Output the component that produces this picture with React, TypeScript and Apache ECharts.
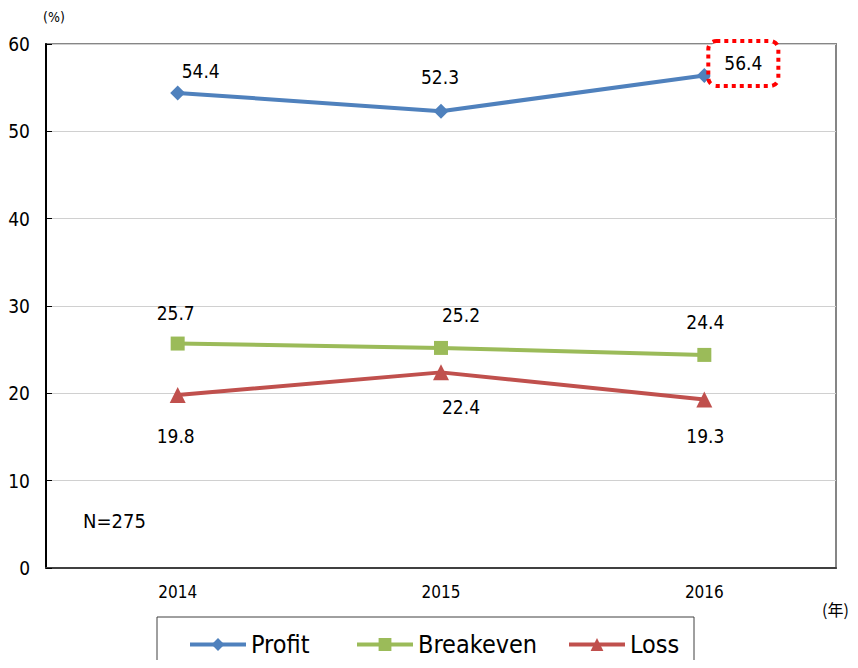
import React, { useEffect, useRef } from "react";
import * as echarts from "echarts";

const years = ["2014", "2015", "2016"];
const profit = [54.4, 52.3, 56.4];
const breakeven = [25.7, 25.2, 24.4];
const loss = [19.8, 22.4, 19.3];
const seriesNames = ["Profit", "Breakeven", "Loss"];
const colors = ["#4F81BD", "#9BBB59", "#C0504D"];

const FONT = '"Liberation Sans Narrow", "DejaVu Sans Condensed", "Noto Sans CJK JP", sans-serif';

// label offsets (dx, dy) from the point centre
const profitOff = [[23, -22], [-1, -34], [39, -12]];
const breakOff = [[-2, -31], [20, -33], [1, -33]];
const lossOff = [[-2, 41], [20, 35], [1, 37]];

function mk(values: number[], offs: number[][], symSize: number, boxIndex = -1) {
  return values.map((v, i) => {
    const [dx, dy] = offs[i];
    const half = symSize / 2;
    const label: any = {
      show: true,
      position: [half + dx, half + dy],
      align: "center",
      verticalAlign: "middle",
      fontSize: 19,
      fontFamily: FONT,
      color: "#000",
      formatter: (p: any) => Number(p.value).toFixed(1),
    };
    if (i === boxIndex) {
      label.borderColor = "#FF0000";
      label.borderWidth = 4;
      label.borderType = [4, 4];
      label.borderRadius = 6;
      label.padding = [11, 14, 11, 14];
      label.backgroundColor = "#fff";
    }
    return { value: v, label };
  });
}

const legendLefts = [183, 350, 562];

export default function App() {
  const ref = useRef<HTMLDivElement>(null);
  useEffect(() => {
    const chart = echarts.init(ref.current!, null, { renderer: "svg" });
    chart.setOption({
      animation: false,
      backgroundColor: "#fff",
      grid: {
        left: 46,
        right: 22,
        top: 44,
        bottom: 100,
        show: true,
        borderColor: "#868686",
        borderWidth: 2,
      },
      xAxis: {
        type: "category",
        data: years,
        boundaryGap: true,
        axisLine: { lineStyle: { color: "#404040", width: 2 } },
        axisTick: { inside: true, length: 6, lineStyle: { color: "#404040" } },
        axisLabel: { fontSize: 17, color: "#000", margin: 15, fontFamily: FONT },
        splitLine: { show: false },
      },
      yAxis: {
        type: "value",
        min: 0,
        max: 60,
        interval: 10,
        axisLine: { show: true, lineStyle: { color: "#000", width: 2 } },
        axisTick: { show: true, inside: true, length: 6, lineStyle: { color: "#000" } },
        axisLabel: { fontSize: 19, color: "#000", margin: 16, fontFamily: FONT },
        splitLine: { lineStyle: { color: "#D0D0D0", width: 1 } },
      },
      legend: seriesNames.map((n, i) => ({
        left: legendLefts[i],
        top: 627,
        itemWidth: 56,
        itemHeight: 16,
        lineStyle: { width: 4 },
        textStyle: { fontSize: 25, color: "#000", fontFamily: FONT },
        data: [n],
      })),
      graphic: [
        {
          type: "rect",
          shape: { x: 157, y: 617, width: 537, height: 70 },
          style: { fill: "none", stroke: "#404040", lineWidth: 1 },
          z: -1,
        },
        {
          type: "text",
          x: 43,
          y: 17,
          style: { text: "(%)", fill: "#000", font: `14px ${FONT}`, verticalAlign: "middle" },
        },
        {
          type: "text",
          x: 822,
          y: 609,
          style: { text: "(年)", fill: "#000", font: `16px "Noto Sans CJK JP", sans-serif`, verticalAlign: "middle" },
        },
        {
          type: "text",
          x: 83,
          y: 521,
          style: { text: "N=275", fill: "#000", font: `20px ${FONT}`, verticalAlign: "middle" },
        },
      ],
      series: [
        {
          name: seriesNames[0],
          type: "line",
          data: mk(profit, profitOff, 15, 2),
          symbol: "diamond",
          symbolSize: 15,
          color: colors[0],
          lineStyle: { width: 4, color: colors[0] },
          itemStyle: { color: colors[0] },
          z: 3,
        },
        {
          name: seriesNames[1],
          type: "line",
          data: mk(breakeven, breakOff, 14),
          symbol: "rect",
          symbolSize: 14,
          color: colors[1],
          lineStyle: { width: 4, color: colors[1] },
          itemStyle: { color: colors[1] },
        },
        {
          name: seriesNames[2],
          type: "line",
          data: mk(loss, lossOff, 16),
          symbol: "triangle",
          symbolSize: 16,
          color: colors[2],
          lineStyle: { width: 4, color: colors[2] },
          itemStyle: { color: colors[2] },
        },
      ],
    });
    return () => chart.dispose();
  }, []);
  return <div ref={ref} style={{ width: 858, height: 668, margin: -8 }} />;
}
